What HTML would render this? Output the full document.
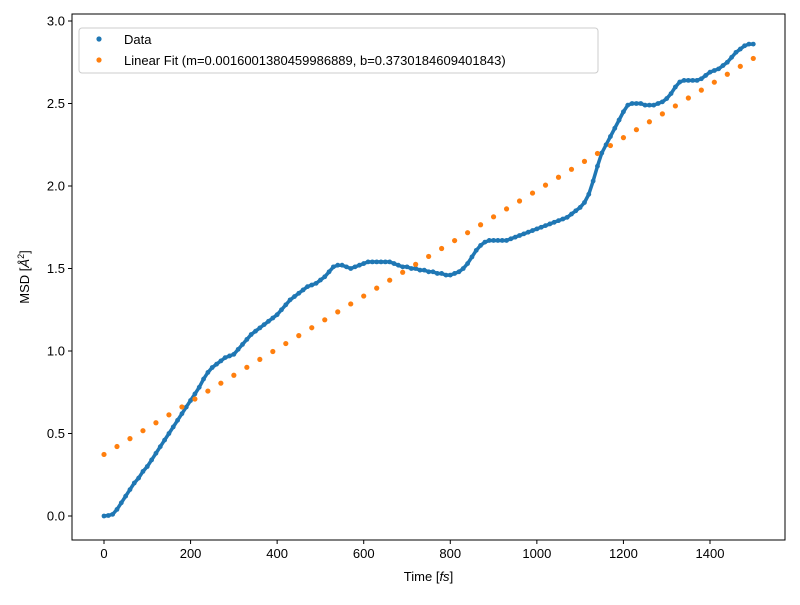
<!DOCTYPE html>
<html><head><meta charset="utf-8"><style>
body{margin:0;background:#fff;}
svg text{font-family:"Liberation Sans",sans-serif;font-size:13px;fill:#000;}
</style></head><body>
<svg id="chart" width="800" height="600" xmlns="http://www.w3.org/2000/svg">
<rect x="0" y="0" width="800" height="600" fill="#fff"/>
<g id="plot"></g>
</svg>
<script>
const dataY = [0,0.003,0.01,0.04,0.08,0.12,0.16,0.2,0.23,0.27,0.3,0.34,0.38,0.42,0.46,0.5,0.54,0.58,0.62,0.66,0.7,0.74,0.78,0.83,0.87,0.9,0.92,0.94,0.96,0.97,0.98,1.01,1.04,1.07,1.1,1.12,1.14,1.16,1.18,1.2,1.22,1.25,1.28,1.31,1.33,1.35,1.37,1.39,1.4,1.41,1.43,1.45,1.48,1.51,1.52,1.52,1.51,1.5,1.51,1.52,1.53,1.54,1.54,1.54,1.54,1.54,1.54,1.53,1.52,1.51,1.51,1.5,1.5,1.49,1.49,1.48,1.48,1.47,1.47,1.46,1.46,1.47,1.48,1.5,1.53,1.57,1.61,1.64,1.66,1.67,1.67,1.67,1.67,1.67,1.68,1.69,1.7,1.71,1.72,1.73,1.74,1.75,1.76,1.77,1.78,1.79,1.8,1.81,1.83,1.85,1.87,1.9,1.95,2.03,2.12,2.2,2.25,2.3,2.35,2.4,2.45,2.49,2.5,2.5,2.5,2.49,2.49,2.49,2.5,2.51,2.53,2.56,2.6,2.63,2.64,2.64,2.64,2.64,2.65,2.67,2.69,2.7,2.71,2.73,2.75,2.78,2.81,2.83,2.85,2.86,2.86];
const dataStep = 10;
const fitM = 0.0016001380459986889;
const fitB = 0.3730184609401843;
const fitStep = 30;
const xTicks = [0,200,400,600,800,1000,1200,1400];
const yTicks = [0,0.5,1.0,1.5,2.0,2.5,3.0];

const L=72,R=785,T=14,B=540;
const x0=104, xs=606/1400;
const y0=516, ys=495/3;
const X=t=>x0+t*xs, Y=v=>y0-v*ys;
const NS="http://www.w3.org/2000/svg";
const g=document.getElementById('plot');
function mk(tag,attrs,parent){const e=document.createElementNS(NS,tag);for(const k in attrs)e.setAttribute(k,attrs[k]);(parent||g).appendChild(e);return e;}

const dg=mk('g',{});


let pts=dataY.map((v,i)=>X(i*dataStep).toFixed(2)+','+Y(v).toFixed(2)).join(' ');
mk('polyline',{points:pts,fill:'none',stroke:'#1f77b4','stroke-width':3.5,'stroke-linejoin':'round','stroke-linecap':'round'},dg);
dataY.forEach((v,i)=>{const c=mk('circle',{cx:X(i*dataStep),cy:Y(v),r:2.4,fill:'#1f77b4'},dg);

});

const fg=mk('g',{});


const tMax=(dataY.length-1)*dataStep;
for(let t=0;t<=tMax;t+=fitStep){const c=mk('circle',{cx:X(t),cy:Y(fitM*t+fitB),r:2.6,fill:'#ff7f0e'},fg);

}

const fr=mk('rect',{x:L,y:T,width:R-L,height:B-T,fill:'none',stroke:'#000','stroke-width':1});



xTicks.forEach(t=>{mk('line',{x1:X(t),x2:X(t),y1:B,y2:B+4,stroke:'#000'});
const tx=mk('text',{x:X(t),y:B+18,'text-anchor':'middle'});tx.textContent=t;

});
yTicks.forEach(v=>{mk('line',{x1:L-4,x2:L,y1:Y(v),y2:Y(v),stroke:'#000'});
const tx=mk('text',{x:L-7,y:Y(v)+4.5,'text-anchor':'end'});tx.textContent=v.toFixed(1);

});

const xt=mk('text',{x:(L+R)/2,y:581,'text-anchor':'middle'});
xt.innerHTML='Time [<tspan font-style="italic">fs</tspan>]';


const yt=mk('text',{x:0,y:0,'text-anchor':'middle',transform:'translate(29,'+((T+B)/2)+') rotate(-90)'});
yt.innerHTML='MSD [<tspan font-style="italic">Å</tspan><tspan dy="-5" font-size="9">2</tspan><tspan dy="5">]</tspan>';



const lg=mk('g',{});


mk('rect',{x:79,y:28,width:519,height:45,rx:3,fill:'#fff','fill-opacity':0.8,stroke:'#ccc'},lg);
mk('circle',{cx:99,cy:39,r:2.6,fill:'#1f77b4'},lg);
mk('circle',{cx:99,cy:60,r:2.6,fill:'#ff7f0e'},lg);
const l1=mk('text',{x:124,y:44},lg);l1.textContent='Data';


const l2=mk('text',{x:124,y:65},lg);l2.textContent='Linear Fit (m='+fitM+', b='+fitB+')';


</script>
</body></html>
